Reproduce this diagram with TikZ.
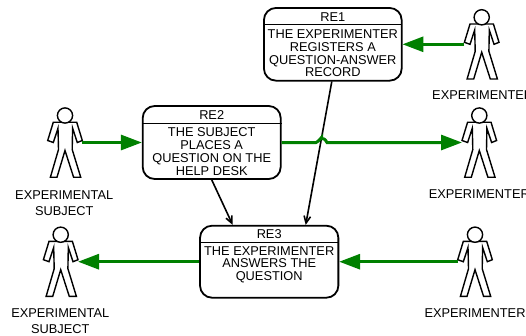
\documentclass[tikz,border=0pt]{standalone}
\usepackage{fontspec}
\setmainfont{Liberation Sans}
\usetikzlibrary{arrows.meta,calc}
\tikzset{
  actorbox/.style={minimum width=34.6pt,minimum height=70pt,inner sep=0pt,outer sep=0pt},
  actorline/.style={draw=black,line width=1.4pt,line join=miter,fill=white},
  rebox/.style={draw=black,line width=1.8pt,rounded corners=12pt,inner sep=0pt,outer sep=0.8pt,fill=white},
  txt/.style={inner sep=0pt,outer sep=0pt,align=center,font=\fontsize{12.8}{12.7}\selectfont},
  lab/.style={inner sep=0pt,outer sep=0pt,align=center,font=\fontsize{12.8}{15.8}\selectfont},
  divider/.style={draw=black,line width=1pt},
  flow/.style={draw={rgb,255:red,0;green,128;blue,0},line width=3pt,-{Triangle[length=21pt,width=15pt]}},
  dep/.style={draw=black,line width=1.6pt,-{Straight Barb[length=7pt,width=12pt,angle'=50]}}
}
\newcommand{\actorfig}[1]{%
  \begin{scope}[shift={(#1)}]
    \draw[actorline] (-11.7,-20.3) -- (11.7,-20.3) -- (17.3,-2) -- (12.3,0) -- (7.6,-14.3) -- (7.2,7) -- (15.7,34.7) -- (8.6,34.7) -- (0,8) -- (-8,34.7) -- (-14.6,34.7) -- (-6.5,7) -- (-7,-14.3) -- (-11.7,0) -- (-17.3,-2) -- cycle;
    \draw[actorline] (0,-27) circle[radius=7.6];
  \end{scope}}
\begin{document}
\begin{tikzpicture}[x=1pt,y=-1pt]
\useasboundingbox (0,0) rectangle (526,335);
% actors
\node[actorbox] (a1) at (65,142.5) {};
\node[actorbox] (a2) at (481.7,44.3) {};
\node[actorbox] (a3) at (479.3,142.5) {};
\node[actorbox] (a4) at (60.7,261.7) {};
\node[actorbox] (a5) at (475,261.7) {};
\actorfig{a1}\actorfig{a2}\actorfig{a3}\actorfig{a4}\actorfig{a5}
% actor labels
\node[lab] (l1) at (64.2,203.3) {EXPERIMENTAL\\SUBJECT};
\node[lab] (l2) at (482.7,95.3) {EXPERIMENTER};
\node[lab] (l3) at (479.3,193.6) {EXPERIMENTER};
\node[lab] (l4) at (60.3,321) {EXPERIMENTAL\\SUBJECT};
\node[lab] (l5) at (475,313) {EXPERIMENTER};
% boxes
\node[rebox,minimum width=137.7pt,minimum height=72.7pt] (re1) at (332.8,44.3) {};
\node[rebox,minimum width=138pt,minimum height=73pt] (re2) at (211.7,142.5) {};
\node[rebox,minimum width=138.3pt,minimum height=72pt] (re3) at (269.2,261.7) {};
\draw[divider] (re1.west |- 0,24.3) -- (re1.east |- 0,24.3);
\draw[divider] (re2.west |- 0,123.3) -- (re2.east |- 0,123.3);
\draw[divider] (re3.west |- 0,242.3) -- (re3.east |- 0,242.3);
\node[txt] (t1) at (332.8,17) {RE1};
\node[txt] (b1) at (332.8,53.6) {THE EXPERIMENTER\\REGISTERS A\\QUESTION-ANSWER\\RECORD};
\node[txt] (t2) at (211.7,114.6) {RE2};
\node[txt] (b2) at (211.7,151.6) {THE SUBJECT\\PLACES A\\QUESTION ON THE\\HELP DESK};
\node[txt] (t3) at (269.2,234.3) {RE3};
\node[txt] (b3) at (269.2,264.6) {THE EXPERIMENTER\\ANSWERS THE\\QUESTION};
% dependency arrows
\coordinate (o1) at ($(re1.south)+(-1,0)$);
\coordinate (i1) at ($(re3.north)+(36.5,0)$);
\coordinate (o2) at ($(re2.south)+(0,0)$);
\coordinate (i2) at ($(re3.north)+(-36.5,0)$);
\draw[dep] (o1) -- (i1);
\draw[dep] (o2) -- (i2);
% green flows
\draw[flow] (a1.east) -- (re2.west);
\draw[flow] (a2.west) -- (re1.east);
\draw[flow] (re2.east) -- ($(re2.east)+(34.5,0)$) .. controls +(2,0) and +(1.5,-3.8) .. ($(re2.east)+(40,-4)$) .. controls +(1.5,0) and +(-2,-4) .. ($(re2.east)+(45.5,0)$) -- (a3.west);
\draw[flow] (re3.west) -- (a4.east);
\draw[flow] (a5.west) -- (re3.east);
\end{tikzpicture}
\end{document}
